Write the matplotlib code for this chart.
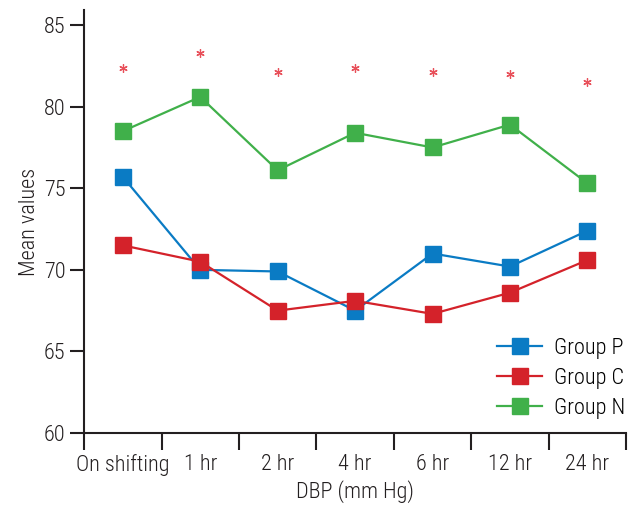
import matplotlib
matplotlib.use("Agg")
import matplotlib.pyplot as plt
import numpy as np

plt.rcParams["font.family"] = ["Roboto Condensed", "Liberation Sans Narrow", "DejaVu Sans"]
plt.rcParams["font.stretch"] = "condensed"
plt.rcParams["font.weight"] = "light"
plt.rcParams["axes.labelweight"] = "light"

categories = ["On shifting", "1 hr", "2 hr", "4 hr", "6 hr", "12 hr", "24 hr"]
group_p = [75.7, 70.0, 69.9, 67.5, 71.0, 70.2, 72.4]
group_c = [71.5, 70.5, 67.5, 68.1, 67.3, 68.6, 70.6]
group_n = [78.5, 80.6, 76.1, 78.4, 77.5, 78.9, 75.3]
star_y = [82.4, 83.3, 82.1, 82.4, 82.1, 82.0, 81.5]

x = np.arange(len(categories)) + 0.5

fig = plt.figure(figsize=(6.37, 5.05), dpi=100)
ax = fig.add_axes([0.132, 0.1426, 0.851, 0.8374])

ax.plot(x, group_p, color="#0a7bc4", lw=1.6, marker="s", ms=11.5, label="Group P")
ax.plot(x, group_c, color="#d4222a", lw=1.6, marker="s", ms=11.5, label="Group C")
ax.plot(x, group_n, color="#40b04a", lw=1.6, marker="s", ms=11.5, label="Group N")
ax.plot(x, star_y, ls="none", marker=(6, 2, 0), ms=6, mew=0.9, color="#e8505a")

ax.set_xlim(0, 7)
ax.set_ylim(60, 85.92)
ax.set_yticks([60, 65, 70, 75, 80, 85])
ax.set_xticks(x)
ax.set_xticklabels(categories)
ax.set_xticks(np.arange(0, 8), minor=True)
ax.tick_params(axis="x", which="major", length=0, pad=15, labelsize=16, colors="#231f20")
ax.tick_params(axis="x", which="minor", length=12, width=1.5, direction="out", color="#231f20")
ax.tick_params(axis="y", length=10, width=1.5, direction="out", labelsize=16, colors="#231f20")

for s in ["top", "right"]:
    ax.spines[s].set_visible(False)
for s in ["left", "bottom"]:
    ax.spines[s].set_linewidth(1.5)
    ax.spines[s].set_color("#231f20")

ax.set_xlabel("DBP (mm Hg)", fontsize=16, color="#231f20", labelpad=3, fontweight="light")
ax.set_ylabel("Mean values", fontsize=16, color="#231f20", labelpad=3, fontweight="light")

ax.legend(loc="lower right", frameon=False, fontsize=16, handlelength=2.0,
          handletextpad=0.55, labelspacing=0.4, borderaxespad=0.0,
          bbox_to_anchor=(1.015, 0.012))

fig.savefig("out.png", dpi=100)
